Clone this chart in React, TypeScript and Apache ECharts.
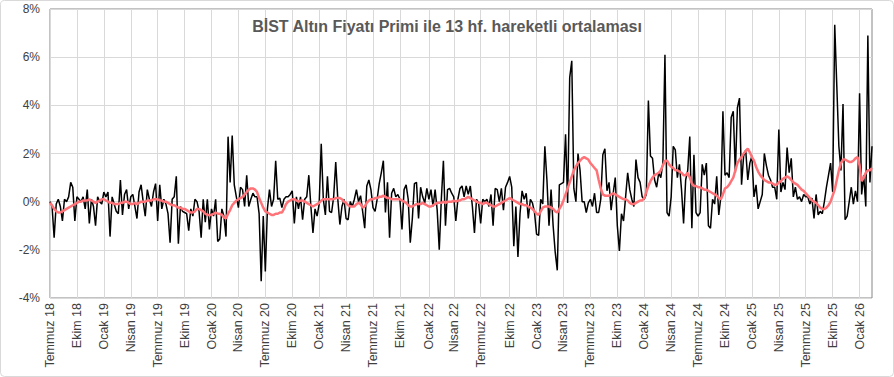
import React, { useEffect, useRef } from "react";
import * as echarts from "echarts";

// Weekly observations, first week ending 6 July 2018
const START_YEAR = 2018;
const START_MONTH = 6; // July (0-based)
const START_DAY = 6;

const MONTH_LABELS: Record<number, string> = { 0: "Ocak", 3: "Nisan", 6: "Temmuz", 9: "Ekim" };

const TITLE = "BİST Altın Fiyatı Primi ile 13 hf. hareketli ortalaması";

const Y_MIN = -4;
const Y_MAX = 8;
const Y_STEP = 2;

// BİST gold price premium (%), weekly
const premium: number[] = [
  0.0, -0.2, -1.5, -0.1, 0.1, -0.2, -0.8, 0.1, 0.0, 0.2, 0.8, 0.6, -0.8, 0.2, 0.1, 0.0,
  0.2, -0.3, 0.5, -0.9, 0.1, -0.2, -1.0, 0.2, 0.0, -0.1, 0.4, 0.2, 0.4, -1.45, 0.2, -0.1,
  -0.4, -0.5, 0.9, -0.55, 0.3, 0.5, -0.3, 0.2, 0.3, -0.2, -0.7, 0.4, 0.7, 0.0, -0.6, 0.5,
  0.1, -0.2, 0.4, 0.75, -0.8, 0.7, -0.3, 0.1, -0.1, -0.5, -1.7, 0.1, 0.2, 1.05, -1.75, -0.2,
  -0.4, -0.45, -0.5, -1.2,
  -0.3, -0.6, 0.1, 0.0, -0.4, -1.5, 0.1, -0.85, 0.1, -1.15, -0.3, -0.6, 0.1, -1.65, -1.55, -0.3,
  -0.6, -1.45, 2.7, 0.8, 2.75, 0.7, 0.2, -0.25, 0.6, 0.5, -0.2, 1.1, -0.2, 0.1, 0.35, 0.2,
  0.2, -0.5, -3.3, -0.6, -2.9, -0.3, 0.5, -0.2, 0.1, 1.7, 0.1, 0.15, -0.25, 0.1, 0.2, 0.2,
  0.3, 0.45, -0.9, 0.2, -0.3, 0.2, -0.75, 0.1, 0.2, 1.1, -0.2, -1.3, -0.3, -0.6, -0.1, 2.4,
  0.1, -0.55,
  1.05, -0.4, -0.45, 0.2, 1.65, 0.1, -0.95, -0.2, 0.1, -0.7, -0.75, 0.0, -0.2, 0.1, 0.5, 0.0,
  0.25, -0.4, -1.1, 0.65, 0.9, 0.5, -0.25, -0.4, 0.1, 0.75, 1.2, 1.7, -0.45, 0.8, -1.5, 0.35,
  0.55, 0.2,
  0.3, 0.1, -1.15, 0.5, 0.7, 0.1, -1.7, -0.7, 0.75, 0.8, -0.7, 0.6, 0.2, -0.05, 0.55, 0.1,
  0.5, -0.2, 0.5, -0.35, -2.0, 0.1, 1.7, -1.0, 0.5, 0.55, 0.35, 0.2, -0.8, 0.1, 0.55, 0.65,
  0.2, 0.65,
  0.3, 0.65, -0.2, -1.3, 0.1, -0.05, -0.9, 0.1, 0.0, 0.1, -0.2, 0.3, -1.0, 0.55, 0.5, 0.0,
  0.55, -0.35, 0.6, 0.8, 1.05, 0.6, -1.85, -0.2, -2.3, -0.5, 0.45, 0.1, 0.35, -0.7, 0.1, -0.05,
  -0.45, -1.35,
  -1.4, 0.1, -0.1, 2.3, 0.9, -1.0, 0.5, -1.0, -2.1, -2.85, 0.7, 0.75, 0.8, 2.8, -0.05, 5.15,
  5.85, 0.55, 0.0, 2.0, 1.3, 0.0, 0.0, -0.45, -0.05, 0.1, -0.2, 0.35, -0.45, -0.45, 0.1, 1.95,
  2.2, 0.45,
  0.8, -0.35, 0.35, 1.0, -1.0, -2.05, -0.5, -0.8, 0.2, 1.2, 0.5, 0.1, -0.2, 1.75, 1.0, 0.8,
  0.2, 0.1, 0.3, 4.2, 1.9, 1.8, 0.9, 0.6, 1.2, 1.0, 1.6, 6.1, -0.45, -0.6, 0.2, 2.3,
  2.15, 1.0,
  1.55, 0.5, -0.9, 0.9, 1.3, 2.7, -1.1, 1.95, -0.45, -0.6, -0.45, 1.55, 1.1, 1.6, -1.0, -1.1,
  0.1, -0.1, 1.05, -0.55, 0.2, 3.75, 1.1, 1.2, 1.0, 3.5, 3.75, 1.2, 3.9, 4.3, 0.7, 1.9,
  2.15, 0.9,
  1.6, 1.9, 0.2, 0.7, -0.3, 0.0, 0.3, 2.0, 1.5, 1.1, 0.9, 0.6, 0.6, 0.1, 3.0, 0.4,
  0.8, 0.5, 2.25, 1.2, 1.8, 0.2, 0.6, 0.1, 0.2, 0.0, 0.3, 0.2,
  0.2, -0.1, 0.15, -0.7, 0.3, -0.55, -0.4, -0.5, 0.0, 0.6, 1.1, 1.6, 0.4, 7.35, 4.8, 2.3,
  1.3, 4.05, -0.75, -0.6, 0.0, 0.6, -0.1, 0.45, 0.0, 4.5, 0.3, 1.1, -0.2, 6.9, 0.8, 2.3,
];

// 13-week moving average (%), weekly
const movingAvg: number[] = [
  -0.05, -0.15, -0.3, -0.4, -0.45, -0.45, -0.4, -0.35, -0.3, -0.25, -0.2, -0.15, -0.1, -0.05, 0.0, 0.0,
  0.05, 0.05, 0.05, 0.1, 0.05, 0.0, -0.05, 0.0, 0.05, 0.1, 0.1, 0.05, 0.0, -0.05, -0.05, -0.1,
  -0.1, -0.1, -0.05, -0.05, 0.0, 0.0, -0.05, -0.1, -0.1, -0.05, -0.1, -0.05, 0.0, 0.0, 0.0, 0.05,
  0.05, 0.05, 0.1, 0.1, 0.1, 0.05, 0.05, 0.0, 0.0, -0.05, -0.1, -0.15, -0.15, -0.2, -0.25, -0.25,
  -0.3, -0.3,
  -0.35, -0.4, -0.45, -0.45, -0.4, -0.3, -0.3, -0.35, -0.4, -0.5, -0.55, -0.55, -0.55, -0.5, -0.45, -0.5,
  -0.5, -0.55, -0.65, -0.7, -0.5, -0.35, -0.15, -0.05, 0.05, 0.1, 0.15, 0.2, 0.3, 0.4, 0.5, 0.55,
  0.55, 0.5,
  0.4, 0.15, -0.05, -0.25, -0.4, -0.45, -0.5, -0.55, -0.55, -0.5, -0.5, -0.45, -0.45, -0.3, -0.1, 0.0,
  0.05, 0.1, 0.1, 0.05, 0.0, 0.05, 0.05, 0.0, -0.05, -0.1, -0.15, -0.2, -0.15, -0.1, -0.05, 0.05,
  0.1, 0.1,
  0.1, 0.1, 0.1, 0.1, 0.15, 0.15, 0.15, 0.1, 0.0, -0.05, -0.15, -0.2, -0.2, -0.2, -0.1, -0.05,
  -0.1, -0.25, -0.2, -0.05, 0.05, 0.1, 0.1, 0.15, 0.15, 0.2, 0.2, 0.25, 0.2, 0.15, 0.15, 0.1,
  0.1, 0.1,
  0.1, 0.1, 0.05, 0.0, -0.05, -0.15, -0.2, -0.2, -0.15, -0.1, -0.1, -0.1, -0.05, -0.1, -0.15, -0.2,
  -0.2, -0.15, -0.1, -0.05, -0.05, -0.05, 0.0, -0.05, 0.0, 0.0, 0.0, 0.05, 0.0, 0.05, 0.05, 0.1,
  0.1, 0.15,
  0.2, 0.15, 0.1, 0.05, 0.0, -0.05, -0.05, -0.1, -0.05, -0.05, -0.1, -0.15, -0.2, -0.2, -0.15, -0.1,
  -0.05, 0.0, 0.05, 0.1, 0.15, 0.1, 0.05, 0.0, -0.05, -0.1, -0.1, -0.15, -0.15, -0.2, -0.25, -0.3,
  -0.4, -0.5,
  -0.55, -0.4, -0.25, -0.2, -0.2, -0.2, -0.25, -0.3, -0.4, -0.45, -0.3, -0.15, 0.05, 0.3, 0.55, 0.8,
  1.05, 1.3, 1.45, 1.6, 1.7, 1.8, 1.85, 1.8, 1.75, 1.6, 1.5, 1.4, 1.3, 0.9, 0.55, 0.3,
  0.25, 0.25,
  0.25, 0.3, 0.35, 0.3, 0.25, 0.2, 0.15, 0.1, 0.1, 0.05, -0.05, -0.1, -0.1, -0.05, 0.0, 0.05,
  0.05, 0.15, 0.4, 0.65, 0.85, 1.0, 1.1, 1.15, 1.2, 1.3, 1.5, 1.7, 1.7, 1.55, 1.45, 1.4,
  1.3, 1.3,
  1.25, 1.2, 1.1, 1.1, 1.2, 1.0, 0.75, 0.65, 0.65, 0.6, 0.6, 0.55, 0.5, 0.5, 0.45, 0.4,
  0.35, 0.3, 0.25, 0.15, 0.1, 0.3, 0.55, 0.6, 0.7, 0.85, 1.0, 1.3, 1.6, 1.75, 1.85, 2.0,
  2.1, 2.2,
  2.05, 1.85, 1.7, 1.45, 1.25, 1.1, 1.0, 0.9, 0.85, 0.8, 0.8, 0.75, 0.7, 0.7, 0.8, 0.85,
  0.95, 1.0, 1.05, 1.0, 0.9, 0.8, 0.75, 0.7, 0.6, 0.5, 0.45, 0.35, 0.25, 0.15, 0.05, 0.0,
  -0.05,
  -0.15, -0.25, -0.3, -0.3, -0.25, -0.15, 0.0, 0.25, 0.5, 0.9, 1.3, 1.6, 1.75, 1.75, 1.7, 1.65,
  1.65, 1.7, 1.8, 1.85, 1.5, 0.85, 1.0, 1.2, 1.3, 1.3, 1.4,
];

function buildWeeks(n: number): string[] {
  const out: string[] = [];
  for (let i = 0; i < n; i++) {
    const d = new Date(Date.UTC(START_YEAR, START_MONTH, START_DAY + 7 * i));
    out.push(d.toISOString().slice(0, 10));
  }
  return out;
}

const FONT = "'Liberation Sans', Arial, sans-serif";

export default function App() {
  const ref = useRef<HTMLDivElement>(null);

  useEffect(() => {
    document.body.style.margin = "0";
    if (!ref.current) return;
    const chart = echarts.init(ref.current, undefined, { renderer: "svg" });
    const n = Math.max(premium.length, movingAvg.length);
    const weeks = buildWeeks(n);
    const monthOf = (s: string) => parseInt(s.slice(5, 7), 10) - 1;
    const isQuarterStart = (i: number) => {
      const m = monthOf(weeks[i]);
      if (MONTH_LABELS[m] === undefined) return false;
      if (i === 0) return true;
      return monthOf(weeks[i - 1]) !== m;
    };

    chart.setOption({
      animation: false,
      backgroundColor: "#ffffff",
      title: {
        text: TITLE,
        left: "center",
        top: 13,
        textStyle: { fontFamily: FONT, fontWeight: "bold", fontSize: 16, color: "#595959" },
      },
      graphic: [
        {
          type: "rect",
          shape: { x: 0.5, y: 0.5, width: 893, height: 376, r: 4 },
          style: { fill: "none", stroke: "#d9d9d9", lineWidth: 1 },
          silent: true,
        },
      ],
      grid: {
        left: 50,
        right: 22,
        top: 9,
        bottom: 79,
        show: true,
        borderColor: "#868686",
        borderWidth: 1,
        backgroundColor: "transparent",
      },
      xAxis: {
        type: "category",
        data: weeks,
        boundaryGap: false,
        axisLine: { show: false },
        axisTick: { show: false },
        axisLabel: {
          interval: (i: number) => isQuarterStart(i),
          rotate: 90,
          margin: 5,
          fontFamily: FONT,
          fontSize: 12.5,
          color: "#404040",
          formatter: (v: string) => {
            const m = monthOf(v);
            return `${MONTH_LABELS[m]} ${v.slice(2, 4)}`;
          },
        },
        splitLine: {
          show: true,
          interval: (i: number) => isQuarterStart(i),
          lineStyle: { color: "#d9d9d9", width: 1 },
        },
      },
      yAxis: {
        type: "value",
        min: Y_MIN,
        max: Y_MAX,
        interval: Y_STEP,
        axisLine: { show: false },
        axisTick: { show: false },
        axisLabel: {
          formatter: (v: number) => `${v}%`,
          fontFamily: FONT,
          fontSize: 12,
          color: "#404040",
          margin: 10,
        },
        splitLine: { show: true, lineStyle: { color: "#d9d9d9", width: 1 } },
      },
      series: [
        {
          name: "Prim",
          type: "line",
          data: premium,
          showSymbol: false,
          symbol: "none",
          lineStyle: { color: "#000000", width: 1.5 },
          z: 2,
        },
        {
          name: "13 hf. ortalama",
          type: "line",
          data: movingAvg,
          showSymbol: false,
          symbol: "none",
          lineStyle: { color: "#ff7378", width: 2.5 },
          z: 3,
        },
      ],
    });

    return () => chart.dispose();
  }, []);

  return <div ref={ref} style={{ width: 894, height: 377 }} />;
}
